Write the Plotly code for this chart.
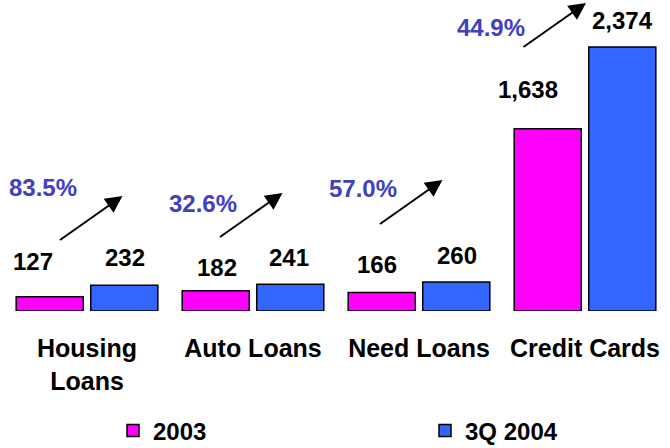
import plotly.graph_objects as go

categories = ["Housing<br>Loans", "Auto Loans", "Need Loans", "Credit Cards"]
series_names = ["2003", "3Q 2004"]
values_2003 = [127, 182, 166, 1638]
values_2004 = [232, 241, 260, 2374]
growth_labels = ["83.5%", "32.6%", "57.0%", "44.9%"]

# styling / placement (pixels)
colors = ["#FF00FF", "#3366FF"]
FONT = "Liberation Sans, Arial, sans-serif"
lab_dx_2003 = [-54.5, -36.5, -42.5, -57]
lab_dy_2003 = [35, 23, 28, 39]
lab_dx_2004 = [37.5, 35.5, 37.5, 37]
lab_dy_2004 = [28, 27, 27, 26.5]
pct_dx = [-44, -50, -56.5, -94.5]
pct_dy = [124, 107.5, 123, 284]
arrow_head_dx = [35.5, 29.5, 23.5, 1]
arrow_head_dy = [115, 118, 131, 308]
legend_x_px = [113, 425]
legend_y_px = 431
ML, MR, MT, MB, W, H = 4, 2, 0, 137, 670, 448
plot_w, plot_h = W - ML - MR, H - MT - MB

fig = go.Figure()
for k, (name, vals, col) in enumerate(zip(series_names, [values_2003, values_2004], colors)):
    fig.add_trace(go.Bar(
        x=categories, y=vals, name=name,
        legend="legend" if k == 0 else "legend2",
        marker=dict(color=col, line=dict(color="black", width=1.5)),
    ))

anns = []
for i, cat in enumerate(categories):
    for vals, dx, dy in [(values_2003, lab_dx_2003, lab_dy_2003), (values_2004, lab_dx_2004, lab_dy_2004)]:
        anns.append(dict(x=i, y=vals[i], xref="x", yref="y", text=f"{vals[i]:,}",
                         showarrow=False, xshift=dx[i], yshift=dy[i], yanchor="middle",
                         font=dict(family=FONT, size=24, color="black", weight="bold")))
    anns.append(dict(x=i, y=0, xref="x", yref="y", text=growth_labels[i], showarrow=False,
                     xshift=pct_dx[i], yshift=pct_dy[i], yanchor="middle",
                     font=dict(family=FONT, size=24, color="#4040C0", weight="bold")))
    anns.append(dict(x=i, y=0, xref="x", yref="y", text="", showarrow=True,
                     xshift=arrow_head_dx[i], yshift=arrow_head_dy[i],
                     ax=-64, ay=45, arrowhead=2, arrowsize=1.7, arrowwidth=2,
                     arrowcolor="black", standoff=0))

leg_y = (plot_h - legend_y_px) / plot_h
leg_common = dict(orientation="h", yref="paper", y=leg_y, xref="paper",
                  xanchor="left", yanchor="middle", bgcolor="rgba(0,0,0,0)",
                  font=dict(family=FONT, size=24, color="black", weight="bold"))

fig.update_layout(
    width=W, height=H,
    margin=dict(l=ML, r=MR, t=MT, b=MB, autoexpand=False),
    paper_bgcolor="white", plot_bgcolor="white",
    barmode="group", bargap=0.102, bargroupgap=0.1,
    showlegend=True,
    legend=dict(x=(legend_x_px[0] - ML) / plot_w, **leg_common),
    legend2=dict(x=(legend_x_px[1] - ML) / plot_w, **leg_common),
    annotations=anns,
    xaxis=dict(range=[-0.5, 3.5], showgrid=False, showline=False, zeroline=False,
               ticks="", ticklabelstandoff=20, automargin=False,
               tickfont=dict(family=FONT, size=25, color="black", weight="bold")),
    yaxis=dict(range=[0, 2796], visible=False, showgrid=False, zeroline=False),
)

fig.write_html("out.html", config={"displayModeBar": False},
               post_script="document.body.style.margin='0';document.body.style.overflow='hidden';")
